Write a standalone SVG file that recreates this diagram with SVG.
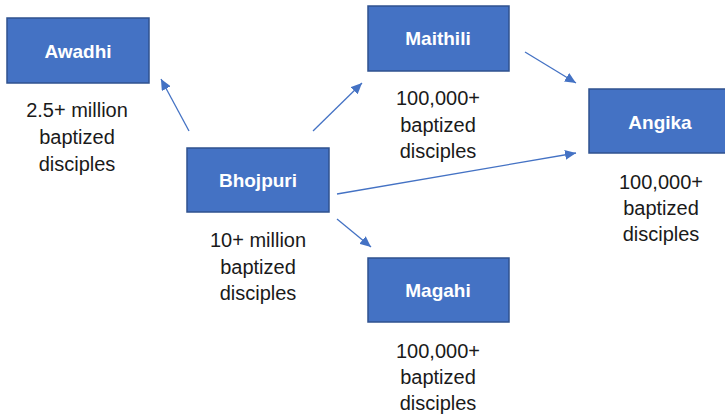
<svg xmlns="http://www.w3.org/2000/svg" width="725" height="415" viewBox="0 0 725 415">
<defs>
<marker id="ah" markerUnits="userSpaceOnUse" markerWidth="12" markerHeight="10" refX="11" refY="5" orient="auto">
<path d="M0,0 L11,5 L0,10 z" fill="#4472C4"/>
</marker>
<style>
.box{fill:#4472C4;stroke:#2F528F;stroke-width:1.5}
.lbl{font-family:"Liberation Sans",Arial,sans-serif;font-size:19px;font-weight:bold;fill:#ffffff;text-anchor:middle}
.sub{font-family:"Liberation Sans",Arial,sans-serif;font-size:20px;fill:#1a1a1a;text-anchor:middle}
.con{stroke:#4472C4;stroke-width:1.3;fill:none;marker-end:url(#ah)}
</style>
</defs>
<rect width="725" height="415" fill="#ffffff"/>
<g id="connectors">
<line class="con" x1="189" y1="131" x2="161" y2="79"/>
<line class="con" x1="313" y1="131" x2="362" y2="83"/>
<line class="con" x1="525" y1="52" x2="576" y2="83"/>
<line class="con" x1="337" y1="194" x2="576" y2="153"/>
<line class="con" x1="337" y1="219" x2="371" y2="247"/>
</g>
<g id="awadhi">
<rect class="box" x="7" y="18" width="142" height="65"/>
<text class="lbl" x="78" y="58">Awadhi</text>
<text class="sub" x="77" y="117">2.5+ million</text>
<text class="sub" x="77" y="144">baptized</text>
<text class="sub" x="77" y="171">disciples</text>
</g>
<g id="bhojpuri">
<rect class="box" x="187" y="148" width="142" height="64"/>
<text class="lbl" x="258" y="187">Bhojpuri</text>
<text class="sub" x="258" y="247">10+ million</text>
<text class="sub" x="258" y="274">baptized</text>
<text class="sub" x="258" y="300">disciples</text>
</g>
<g id="maithili">
<rect class="box" x="368" y="6" width="141" height="65"/>
<text class="lbl" x="438" y="45">Maithili</text>
<text class="sub" x="438" y="105">100,000+</text>
<text class="sub" x="438" y="132">baptized</text>
<text class="sub" x="438" y="158">disciples</text>
</g>
<g id="angika">
<rect class="box" x="589" y="89" width="142" height="64"/>
<text class="lbl" x="660" y="129">Angika</text>
<text class="sub" x="661" y="189">100,000+</text>
<text class="sub" x="661" y="215">baptized</text>
<text class="sub" x="661" y="241">disciples</text>
</g>
<g id="magahi">
<rect class="box" x="368" y="258" width="141" height="64"/>
<text class="lbl" x="438" y="297">Magahi</text>
<text class="sub" x="438" y="358">100,000+</text>
<text class="sub" x="438" y="384">baptized</text>
<text class="sub" x="438" y="410">disciples</text>
</g>
</svg>
